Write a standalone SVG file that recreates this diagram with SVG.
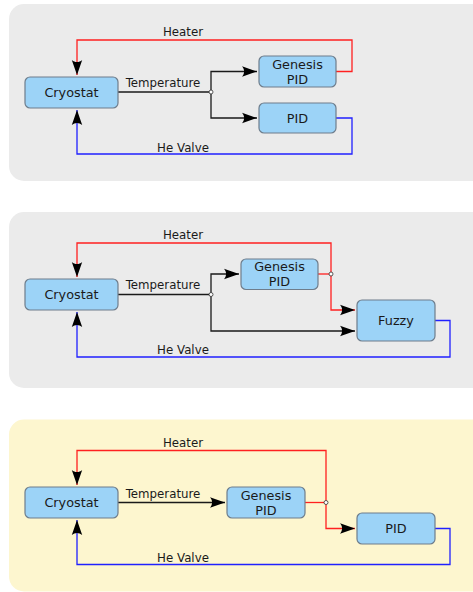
<svg xmlns="http://www.w3.org/2000/svg" width="473" height="592" viewBox="0 0 473 592">
  <style>
    .panel-gray { fill: #ebebeb; }
    .panel-yellow { fill: #fdf6cf; }
    .node rect { fill: #9cd3f7; stroke: #6e7d8c; stroke-width: 1.2; }
    .node text, .label { font-family: "DejaVu Sans", "Liberation Sans", sans-serif; fill: #1a1a1a; text-anchor: middle; }
    .node text { font-size: 12.8px; }
    .label { font-size: 11.8px; }
    .wire { fill: none; stroke-width: 1.3; stroke-linejoin: miter; }
    .temp { stroke: #1a1a1a; }
    .heat { stroke: #ff2020; }
    .valve { stroke: #2020ff; }
    .arrow { marker-end: url(#head); }
    .junction { fill: #ffffff; stroke: #333333; stroke-width: 0.8; }
  </style>
  <defs>
    <marker id="head" markerUnits="userSpaceOnUse" orient="auto" markerWidth="20" markerHeight="14" viewBox="-16 -7 20 14" refX="0" refY="0" overflow="visible">
      <path d="M0,0 L-15,-5.2 C-12.2,-2 -12.2,2 -15,5.2 Z" fill="#000000"/>
    </marker>
  </defs>

  <!-- panel backgrounds -->
  <rect class="panel-gray" x="9" y="4" width="490" height="177" rx="15"/>
  <rect class="panel-gray" x="9" y="212" width="490" height="176" rx="15"/>
  <rect class="panel-yellow" x="9" y="419.5" width="490" height="172" rx="15"/>

  <!-- connectors -->
  <g id="connectors">
    <!-- top loop -->
    <path class="wire heat arrow" d="M336,71.5 H352 V40 H77 V75"/>
    <path class="wire temp" d="M118,92 H211"/>
    <path class="wire temp arrow" d="M211,92 V71.5 H257"/>
    <path class="wire temp arrow" d="M211,92 V118 H257"/>
    <path class="wire valve arrow" d="M336,118 H352 V154 H77 V110"/>
    <circle class="junction" cx="211" cy="92" r="2"/>

    <!-- middle loop -->
    <path class="wire heat" d="M318,274 H331"/>
    <path class="wire heat arrow" d="M331,274 V243 H77 V277"/>
    <path class="wire heat arrow" d="M331,274 V310 H355"/>
    <path class="wire temp" d="M118,294.5 H211"/>
    <path class="wire temp arrow" d="M211,294.5 V274 H239"/>
    <path class="wire temp arrow" d="M211,294.5 V331 H355"/>
    <path class="wire valve arrow" d="M435,320.5 H450 V357 H77 V312"/>
    <circle class="junction" cx="331" cy="274" r="2"/>
    <circle class="junction" cx="211" cy="294.5" r="2"/>

    <!-- bottom loop -->
    <path class="wire temp arrow" d="M118,502.5 H225"/>
    <path class="wire heat" d="M305,502.5 H326"/>
    <path class="wire heat arrow" d="M326,502.5 V450.5 H77 V485"/>
    <path class="wire heat arrow" d="M326,502.5 V528.5 H355"/>
    <path class="wire valve arrow" d="M435,528.5 H450 V564.5 H77 V520"/>
    <circle class="junction" cx="326" cy="502.5" r="2"/>
  </g>

  <!-- connector labels -->
  <text class="label" x="183" y="36">Heater</text>
  <text class="label" x="163" y="87">Temperature</text>
  <text class="label" x="183" y="152">He Valve</text>

  <text class="label" x="183" y="238.5">Heater</text>
  <text class="label" x="163" y="289">Temperature</text>
  <text class="label" x="183" y="354">He Valve</text>

  <text class="label" x="183" y="446.5">Heater</text>
  <text class="label" x="163" y="497.5">Temperature</text>
  <text class="label" x="183" y="562">He Valve</text>

  <!-- top loop nodes -->
  <g id="cryostat-1" class="node">
    <rect x="25" y="77" width="93" height="31" rx="5"/>
    <text x="71.5" y="96.5">Cryostat</text>
  </g>
  <g id="genesis-pid-1" class="node">
    <rect x="259" y="56" width="77" height="31" rx="5"/>
    <text x="297.5" y="68.5">Genesis</text>
    <text x="297.5" y="83.5">PID</text>
  </g>
  <g id="pid-1" class="node">
    <rect x="259" y="103" width="77" height="30" rx="5"/>
    <text x="297.5" y="122.5">PID</text>
  </g>

  <!-- middle loop nodes -->
  <g id="cryostat-2" class="node">
    <rect x="25" y="279" width="93" height="31" rx="5"/>
    <text x="71.5" y="299">Cryostat</text>
  </g>
  <g id="genesis-pid-2" class="node">
    <rect x="241" y="259" width="77" height="30.5" rx="5"/>
    <text x="279.5" y="271">Genesis</text>
    <text x="279.5" y="286">PID</text>
  </g>
  <g id="fuzzy" class="node">
    <rect x="357" y="300" width="78" height="41" rx="5"/>
    <text x="396" y="325">Fuzzy</text>
  </g>

  <!-- bottom loop nodes -->
  <g id="cryostat-3" class="node">
    <rect x="25" y="487" width="93" height="31" rx="5"/>
    <text x="71.5" y="507">Cryostat</text>
  </g>
  <g id="genesis-pid-3" class="node">
    <rect x="227" y="487" width="78" height="31" rx="5"/>
    <text x="266" y="499.5">Genesis</text>
    <text x="266" y="514.5">PID</text>
  </g>
  <g id="pid-3" class="node">
    <rect x="357" y="513" width="78" height="31" rx="5"/>
    <text x="396" y="533">PID</text>
  </g>
</svg>
